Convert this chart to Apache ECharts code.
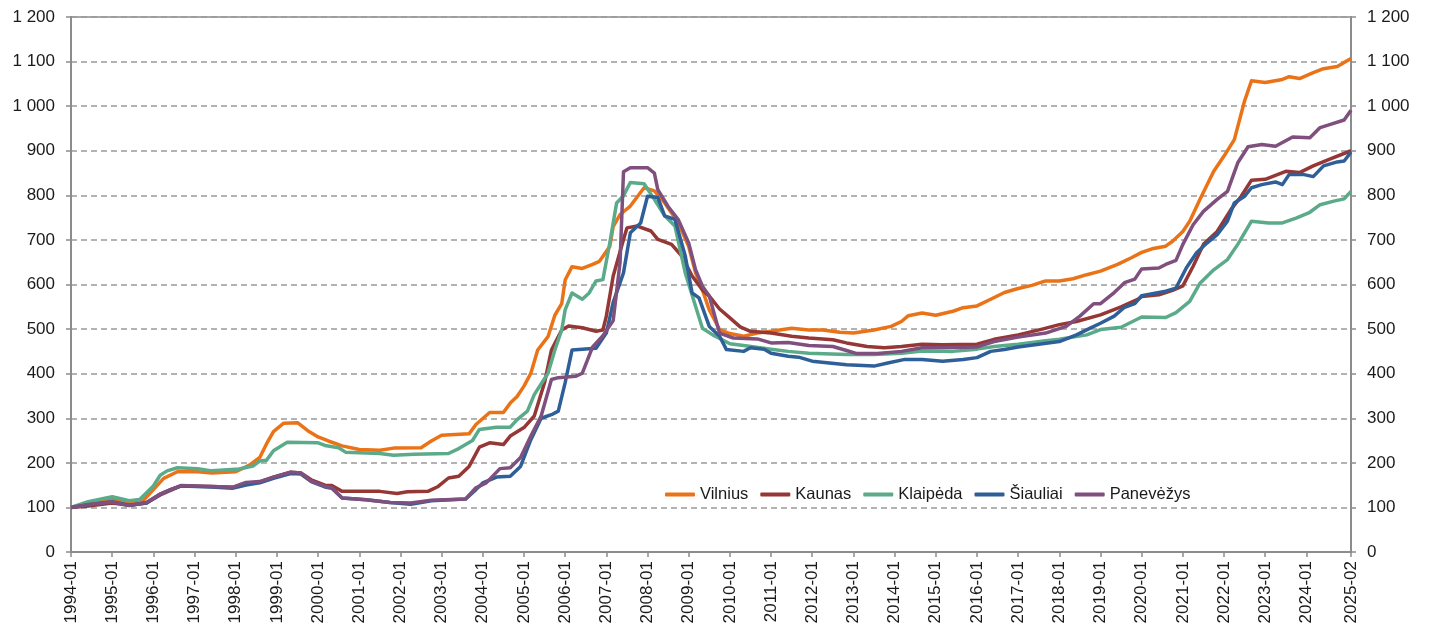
<!DOCTYPE html>
<html>
<head>
<meta charset="utf-8">
<script src="https://cdn.jsdelivr.net/npm/echarts@6/dist/echarts.min.js"></script>
<style>
  html, body { margin: 0; padding: 0; background: #fff; }
  #chart { width: 1432px; height: 637px; }
</style>
</head>
<body>
<div id="chart"></div>
<script>
// month categories 1994-01 .. 2025-02
var months = [];
for (var y = 1994; y <= 2025; y++) {
  for (var m = 1; m <= 12; m++) {
    if (y === 2025 && m > 2) break;
    months.push(y + '-' + (m < 10 ? '0' + m : m));
  }
}

var seriesNames = ['Vilnius', 'Kaunas', 'Klaipėda', 'Šiauliai', 'Panevėžys'];
var yTicks = [0, 100, 200, 300, 400, 500, 600, 700, 800, 900, 1000, 1100, 1200];

// values: [month, index]
var vilnius = [['1994-01',100],['1994-06',110],['1995-01',120],['1995-06',112],['1995-10',115],['1996-01',140],['1996-04',165],['1996-08',180],['1997-02',180],['1997-06',177],['1998-01',180],['1998-05',195],['1998-08',212],['1998-10',243],['1998-12',270],['1999-03',289],['1999-07',290],['1999-10',272],['2000-01',258],['2000-04',249],['2000-08',238],['2001-01',230],['2001-07',228],['2001-11',233],['2002-07',234],['2002-10',249],['2003-01',262],['2003-09',265],['2003-11',286],['2004-03',313],['2004-07',313],['2004-09',334],['2004-11',349],['2005-01',372],['2005-03',401],['2005-05',453],['2005-08',483],['2005-10',531],['2005-12',557],['2006-01',610],['2006-03',640],['2006-06',636],['2006-09',645],['2006-11',652],['2007-02',685],['2007-03',730],['2007-05',757],['2007-08',776],['2007-12',817],['2008-03',810],['2008-06',783],['2008-10',738],['2009-01',685],['2009-03',626],['2009-05',588],['2009-07',543],['2009-10',499],['2010-01',490],['2010-05',484],['2010-09',491],['2011-01',495],['2011-07',502],['2011-12',498],['2012-04',498],['2012-09',493],['2013-01',491],['2013-07',498],['2013-12',506],['2014-03',517],['2014-05',530],['2014-09',536],['2015-01',531],['2015-06',540],['2015-09',548],['2016-01',552],['2016-05',567],['2016-09',582],['2017-01',591],['2017-05',598],['2017-09',608],['2018-01',608],['2018-05',613],['2018-09',622],['2019-01',630],['2019-06',645],['2019-10',660],['2020-01',672],['2020-04',680],['2020-08',686],['2020-10',697],['2021-01',719],['2021-03',742],['2021-06',791],['2021-10',854],['2022-01',888],['2022-04',925],['2022-07',1012],['2022-09',1057],['2023-01',1053],['2023-06',1060],['2023-08',1066],['2023-11',1062],['2024-03',1075],['2024-06',1084],['2024-10',1089],['2024-12',1098],['2025-02',1107]];

var kaunas = [['1994-01',100],['1994-06',103],['1995-01',110],['1995-06',105],['1995-11',110],['1996-03',128],['1996-06',138],['1996-09',148],['1997-06',147],['1997-12',145],['1998-04',153],['1998-08',157],['1998-12',168],['1999-05',179],['1999-08',177],['1999-11',162],['2000-03',150],['2000-05',149],['2000-08',136],['2001-07',136],['2001-12',131],['2002-03',135],['2002-09',136],['2002-12',147],['2003-03',166],['2003-06',170],['2003-09',192],['2003-12',235],['2004-03',245],['2004-07',241],['2004-09',260],['2005-01',279],['2005-04',305],['2005-07',380],['2005-09',453],['2005-12',498],['2006-02',507],['2006-06',503],['2006-10',495],['2006-12',498],['2007-01',529],['2007-03',619],['2007-06',701],['2007-07',727],['2007-10',731],['2008-02',720],['2008-04',701],['2008-08',690],['2008-11',664],['2009-02',619],['2009-05',588],['2009-07',574],['2009-10',545],['2010-01',525],['2010-04',505],['2010-07',495],['2011-01',491],['2011-07',484],['2011-12',480],['2012-07',476],['2012-11',469],['2013-05',461],['2013-10',458],['2014-03',461],['2014-09',466],['2015-03',465],['2016-01',466],['2016-06',477],['2017-01',487],['2017-08',500],['2018-01',510],['2018-06',517],['2019-01',532],['2019-07',550],['2019-12',567],['2020-01',573],['2020-06',577],['2020-10',587],['2021-01',597],['2021-04',641],['2021-07',690],['2021-11',719],['2022-03',768],['2022-06',798],['2022-09',834],['2023-01',836],['2023-07',854],['2023-11',851],['2024-03',866],['2024-08',882],['2025-02',900]];

var klaipeda = [['1994-01',100],['1994-06',113],['1995-01',124],['1995-06',115],['1995-09',118],['1996-01',148],['1996-03',172],['1996-05',182],['1996-08',189],['1997-02',187],['1997-06',182],['1998-02',186],['1998-06',193],['1998-08',204],['1998-10',206],['1998-12',227],['1999-04',246],['2000-01',245],['2000-03',239],['2000-07',234],['2000-09',224],['2001-07',221],['2001-11',217],['2002-05',219],['2003-03',221],['2003-06',232],['2003-10',250],['2003-12',275],['2004-05',280],['2004-09',280],['2004-11',297],['2005-02',316],['2005-04',353],['2005-08',401],['2005-10',453],['2005-12',498],['2006-01',543],['2006-03',581],['2006-06',567],['2006-08',581],['2006-10',608],['2006-12',611],['2007-02',693],['2007-04',783],['2007-06',799],['2007-08',829],['2007-12',826],['2008-03',791],['2008-06',754],['2008-09',731],['2008-12',626],['2009-03',551],['2009-05',502],['2009-08',487],['2010-01',467],['2010-05',463],['2011-01',455],['2011-06',450],['2011-12',446],['2012-11',443],['2013-07',443],['2014-03',446],['2014-09',451],['2015-03',450],['2015-06',450],['2016-01',455],['2016-06',461],['2017-01',466],['2017-09',474],['2018-01',477],['2018-09',487],['2019-01',499],['2019-07',504],['2020-01',527],['2020-08',526],['2020-11',537],['2021-03',562],['2021-06',603],['2021-10',633],['2022-02',656],['2022-05',690],['2022-09',742],['2023-02',738],['2023-06',738],['2023-10',749],['2024-02',762],['2024-05',779],['2024-09',787],['2024-12',792],['2025-02',809]];

var siauliai = [['1994-01',100],['1994-06',106],['1995-01',113],['1995-06',105],['1995-11',110],['1996-03',130],['1996-06',140],['1996-09',148],['1997-06',146],['1997-12',143],['1998-04',150],['1998-08',155],['1998-12',165],['1999-05',176],['1999-08',175],['1999-11',158],['2000-03',146],['2000-05',143],['2000-08',121],['2001-03',117],['2001-10',111],['2002-04',107],['2002-10',115],['2003-08',119],['2003-11',140],['2004-01',155],['2004-05',168],['2004-09',170],['2004-12',192],['2005-03',252],['2005-06',300],['2005-09',308],['2005-11',316],['2006-01',380],['2006-03',453],['2006-10',457],['2006-12',480],['2007-01',491],['2007-03',560],['2007-06',626],['2007-08',716],['2007-11',738],['2008-01',798],['2008-04',795],['2008-06',754],['2008-09',746],['2008-12',664],['2009-02',581],['2009-04',570],['2009-07',506],['2009-10',484],['2009-12',454],['2010-05',450],['2010-07',458],['2010-11',455],['2011-01',446],['2011-06',439],['2011-09',437],['2012-01',428],['2012-06',424],['2012-11',420],['2013-07',417],['2013-11',424],['2014-04',432],['2014-09',432],['2015-03',428],['2015-09',432],['2016-01',436],['2016-05',450],['2016-09',454],['2017-01',460],['2017-07',466],['2018-01',472],['2018-06',487],['2018-10',502],['2019-01',513],['2019-05',529],['2019-08',549],['2019-11',557],['2020-01',575],['2020-08',585],['2020-11',592],['2021-02',637],['2021-05',671],['2021-08',693],['2021-11',712],['2022-02',742],['2022-04',783],['2022-07',798],['2022-09',817],['2022-12',824],['2023-04',830],['2023-06',824],['2023-08',847],['2023-12',847],['2024-03',842],['2024-06',866],['2024-10',875],['2024-12',877],['2025-02',897]];

var panevezys = [['1994-01',100],['1994-06',106],['1995-01',112],['1995-06',104],['1995-11',111],['1996-03',130],['1996-06',140],['1996-09',149],['1997-06',147],['1997-12',145],['1998-04',156],['1998-08',158],['1998-12',168],['1999-05',179],['1999-08',177],['1999-11',159],['2000-03',147],['2000-05',144],['2000-08',121],['2001-03',117],['2001-10',111],['2002-04',110],['2002-10',116],['2003-08',119],['2003-11',144],['2004-02',155],['2004-06',187],['2004-09',189],['2004-12',212],['2005-03',260],['2005-06',305],['2005-09',387],['2005-11',391],['2006-04',394],['2006-06',401],['2006-09',460],['2006-12',485],['2007-03',519],['2007-05',650],['2007-06',853],['2007-08',862],['2008-01',862],['2008-03',850],['2008-04',813],['2008-07',775],['2008-10',745],['2009-01',693],['2009-03',633],['2009-05',596],['2009-07',574],['2009-10',491],['2010-02',480],['2010-09',478],['2011-01',469],['2011-06',470],['2011-12',463],['2012-07',461],['2012-11',452],['2013-02',445],['2013-08',445],['2014-03',450],['2014-09',458],['2015-03',458],['2016-01',460],['2016-06',472],['2017-01',482],['2017-09',491],['2018-03',506],['2018-07',529],['2018-11',557],['2019-01',557],['2019-05',582],['2019-08',604],['2019-11',612],['2020-01',635],['2020-06',637],['2020-08',645],['2020-11',654],['2021-01',690],['2021-04',734],['2021-07',764],['2021-11',791],['2022-02',809],['2022-05',873],['2022-08',909],['2022-12',914],['2023-04',910],['2023-09',931],['2024-02',929],['2024-05',952],['2024-08',959],['2024-12',969],['2025-02',991]];

var colors = ['#EA7317', '#953735', '#5BAA8A', '#2F5F98', '#7F4F7D'];
var allData = [vilnius, kaunas, klaipeda, siauliai, panevezys];

var font = 'Liberation Sans';
var grey = '#8c8c8c';

// label every January, the last one replaced by the final month
function showTick(index) {
  return (index % 12 === 0 && index < months.length - 3) || index === months.length - 1;
}
function fmtNum(v) {
  return String(v).replace(/\B(?=(\d{3})+(?!\d))/g, ' ');
}

var chart = echarts.init(document.getElementById('chart'));

var yAxisBase = {
  type: 'value',
  min: yTicks[0],
  max: yTicks[yTicks.length - 1],
  interval: 100,
  axisLine: { show: true, lineStyle: { color: grey, width: 2 } },
  axisTick: { show: true, length: 5, lineStyle: { color: grey, width: 1.5 } },
  axisLabel: { color: '#1a1a1a', fontFamily: font, fontSize: 17, margin: 16, formatter: fmtNum }
};

var option = {
  animation: false,
  color: colors,
  grid: {
    left: 71, right: 81, top: 17, bottom: 85,
    show: true, borderColor: grey, borderWidth: 1.5
  },
  legend: {
    left: 660, top: 481,
    itemWidth: 30, itemHeight: 4, itemGap: 12,
    icon: 'roundRect',
    textStyle: { fontFamily: font, fontSize: 16.5, color: '#1a1a1a' },
    data: seriesNames
  },
  xAxis: {
    type: 'category',
    data: months,
    boundaryGap: false,
    axisLine: { lineStyle: { color: grey, width: 2 } },
    axisTick: { show: true, length: 5, interval: showTick, lineStyle: { color: grey, width: 1.5 } },
    axisLabel: {
      interval: showTick, rotate: 90, margin: 9,
      color: '#1a1a1a', fontFamily: font, fontSize: 17
    },
    splitLine: { show: false }
  },
  yAxis: [
    Object.assign({}, yAxisBase, {
      position: 'left',
      splitLine: { show: true, lineStyle: { color: '#9a9a9a', width: 1.5, type: [6, 4] } }
    }),
    Object.assign({}, yAxisBase, {
      position: 'right',
      splitLine: { show: false }
    })
  ],
  series: seriesNames.map(function (name, i) {
    return {
      name: name,
      type: 'line',
      data: allData[i],
      showSymbol: false,
      lineStyle: { width: 3.5, color: colors[i], join: 'round' },
      itemStyle: { color: colors[i] }
    };
  })
};

chart.setOption(option);
</script>
</body>
</html>
